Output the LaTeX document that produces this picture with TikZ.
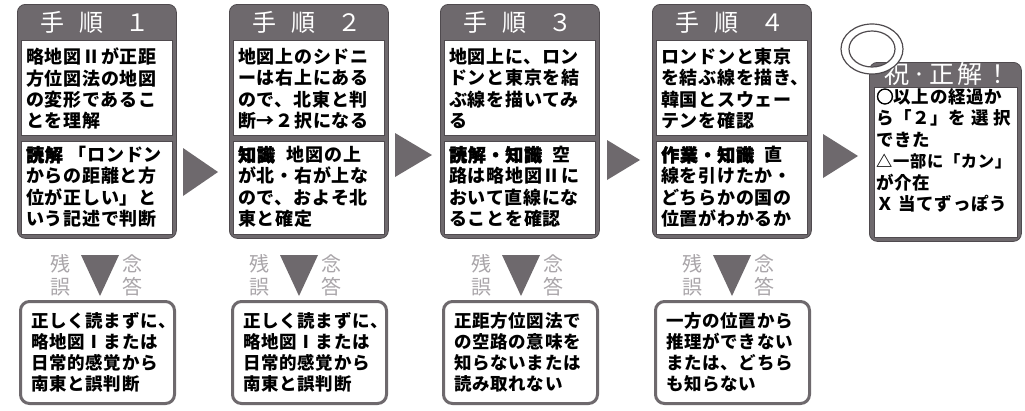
\documentclass[tikz,border=0pt]{standalone}
\usepackage{fontspec}
\newfontfamily\jp[LetterSpace=4]{Noto Sans CJK JP}
\newfontfamily\jpk[LetterSpace=4,BoldFeatures={FakeBold=2.5}]{Noto Sans CJK JP}
\newfontfamily\jpl{Noto Sans CJK JP}
\newfontfamily\jpw[LetterSpace=12]{Noto Sans CJK JP}
\definecolor{fg}{HTML}{6E696D}
\definecolor{fgd}{HTML}{4F4A4E}
\definecolor{lg}{HTML}{A9A5A9}
\tikzset{
  frame/.style={fill=fg, draw=fgd, line width=0.8pt, rounded corners=8pt, inner sep=0pt, anchor=north west},
  panel/.style={fill=white, draw=fgd, line width=0.5pt, inner sep=0pt, anchor=north west},
  hdr/.style={text=white, inner sep=0pt, font=\jpl\fontsize{24}{26}\selectfont},
  txt/.style={anchor=north west, align=left, inner sep=0pt, font=\jp\bfseries\fontsize{18}{21.3}\selectfont},
  ftxt/.style={anchor=north west, align=left, inner sep=0pt, font=\jp\bfseries\fontsize{17.5}{21.5}\selectfont},
  btxt/.style={anchor=north west, align=left, inner sep=0pt, font=\jp\bfseries\fontsize{17.5}{21}\selectfont},
  lbl/.style={text=lg, inner sep=0pt, font=\jpl\fontsize{20}{22}\selectfont},
  bframe/.style={fill=white, draw=fg, line width=3pt, rounded corners=9pt, inner sep=0pt, anchor=north west},
  arr/.style={fill=fg},
}
\newcommand\kw[1]{{\jpk\bfseries #1}}
% #1 name, #2 left x, #3 number, #4 upper, #5 lower, #6 triangle centre x, #7 bottom text
\newcommand\mkcol[7]{%
  \node[frame, minimum width=159pt, minimum height=234pt] (#1) at (#2,4) {};
  \node[panel, minimum width=151pt, minimum height=95pt] (#1u) at ({#2+4},40) {};
  \node[panel, minimum width=151pt, minimum height=93pt] (#1l) at ({#2+4},141) {};
  \node[hdr, anchor=west] (#1h) at ({#2+23},22) {手\hspace{15pt}順\hspace{22pt}#3};
  \node[txt] (#1ut) at ({#2+9},48) {#4};
  \node[txt] (#1lt) at ({#2+9},146) {#5};
  \fill[arr] ({#6-19},255) -- ({#6+19},255) -- (#6,296) -- cycle;
  \node[lbl] (#1a) at ({#6-40},264) {残};
  \node[lbl] (#1b) at ({#6-40},287) {誤};
  \node[lbl] (#1c) at ({#6+32},264) {念};
  \node[lbl] (#1d) at ({#6+32},287) {答};
  \node[bframe, minimum width=154pt, minimum height=102pt] (#1x) at ({#2+2},300) {};
  \node[btxt] (#1xt) at ({#2+14},312) {#7};
}
\begin{document}
\begin{tikzpicture}[x=1pt,y=-1pt]
\useasboundingbox[fill=white] (0,0) rectangle (1025,410);
\mkcol{c1}{17}{１}{略地図Ⅱが正距\\方位図法の地図\\の変形であるこ\\とを理解}
  {\kw{読解}\hspace{6pt}「ロンドン\\からの距離と方\\位が正しい」と\\いう記述で判断}{100}
  {正しく読まずに、\\略地図Ⅰまたは\\日常的感覚から\\南東と誤判断}
\mkcol{c2}{229}{２}{地図上のシドニ\\ーは右上にある\\ので、北東と判\\断→２択になる}
  {\kw{知識}\hspace{12pt}地図の上\\が北・右が上な\\ので、およそ北\\東と確定}{299}
  {正しく読まずに、\\略地図Ⅰまたは\\日常的感覚から\\南東と誤判断}
\mkcol{c3}{440}{３}{地図上に、ロン\\ドンと東京を結\\ぶ線を描いてみ\\る}
  {\kw{読解・知識}\hspace{10pt}空\\路は略地図Ⅱに\\おいて直線にな\\ることを確認}{521}
  {正距方位図法で\\の空路の意味を\\知らないまたは\\読み取れない}
\mkcol{c4}{652}{４}{ロンドンと東京\\を結ぶ線を描き、\\韓国とスウェー\\テンを確認}
  {\kw{作業・知識}\hspace{10pt}直\\線を引けたか・\\どちらかの国の\\位置がわかるか}{732}
  {一方の位置から\\推理ができない\\または、どちら\\も知らない}
% right arrows
\fill[arr] (183,148) -- (183,196) -- (218,172) -- cycle;
\fill[arr] (395,133) -- (395,177) -- (432,155) -- cycle;
\fill[arr] (607,140) -- (607,180) -- (640,160) -- cycle;
\fill[arr] (823,134) -- (823,178) -- (858,156) -- cycle;
% final box
\node[frame, minimum width=152pt, minimum height=179pt] (c5) at (869,62) {};
\node[panel, minimum width=143pt, minimum height=150pt] (c5u) at (874,87) {};
\node[hdr, anchor=west, font=\jpw\fontsize{25}{27}\selectfont] (c5h) at (884,74) {祝·正解！};
\node[ftxt] (c5t) at (876,88) {\kw{○}以上の経過か\\ら「２」を 選 択\\できた\\{\fontsize{16.3}{21.5}\selectfont △一部に「カン」}\\が介在\\Ｘ 当てずっぽう};
\fill[white, draw=fgd, line width=1.2pt, even odd rule] (872,49) ellipse [x radius=31pt, y radius=25pt] (872,49) ellipse [x radius=23pt, y radius=18pt];
\end{tikzpicture}
\end{document}
